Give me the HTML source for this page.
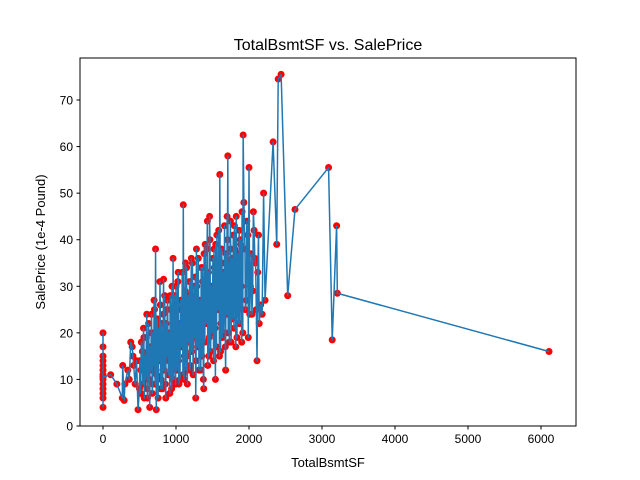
<!DOCTYPE html>
<html><head><meta charset="utf-8">
<style>
body{margin:0;background:#fff;}
svg{display:block;font-family:"Liberation Sans","DejaVu Sans",sans-serif;}
</style></head>
<body>
<svg id="chart" width="640" height="480" viewBox="0 0 640 480">
<rect x="0" y="0" width="640" height="480" fill="#fff"/>
<text x="328" y="50" font-size="16" text-anchor="middle">TotalBsmtSF vs. SalePrice</text>
<text x="328" y="467" font-size="13" text-anchor="middle">TotalBsmtSF</text>
<text transform="translate(45,242) rotate(-90)" font-size="13" text-anchor="middle">SalePrice (1e-4 Pound)</text>
<g id="plot"></g>
<rect x="80" y="58" width="496" height="368" fill="none" stroke="#000" stroke-width="1"/>
</svg>
<script>
const xs=[0,0,0,0,0,0,0,0,0,0,0,0,0,0,105,190,264,270,290,300,340,360,380,400,410,420,440,460,480,500,520,540,560,580,600,610,620,640,660,680,700,710,720,730,740,760,780,790,800,820,830,850,860,880,900,920,940,960,970,990,1000,1010,1030,1040,1060,1080,1100,1110,1130,1150,1170,1190,1210,1230,1250,1270,1280,1300,1320,1340,1360,1380,1400,1420,1430,1450,1460,1480,1500,1520,1540,1560,1580,1600,1610,1630,1650,1660,1680,1700,1710,1730,1750,1770,1800,1820,1840,1860,1880,1900,1920,1930,1950,1970,1990,2000,2020,2040,2060,2070,2090,2110,2130,2160,2180,2200,2220,2330,2380,2400,2440,2530,2630,3090,3140,3200,3210,6110,
505,515,525,545,555,565,575,585,595,605,625,635,645,655,665,675,685,695,705,715,725,735,745,755,765,775,785,795,805,815,825,835,845,855,865,875,885,895,905,915,925,935,945,955,965,975,985,995,1005,1015,1025,1035,1045,1055,1065,1075,1085,1095,1105,1115,1125,1135,1145,1155,1165,1175,1185,1195,1205,1215,1225,1235,1245,1255,1265,1275,1285,1295,1305,1315,1325,1335,1345,1355,1365,1375,1385,1395,1405,1415,1425,1435,1445,1455,1465,1475,1485,1495,1505,1515,1525,1535,1545,1555,1565,1575,1585,1595,1605,1615,1625,1635,1645,1655,1665,1675,1685,1695,1705,1715,1725,1735,1745,1755,1765,1775,1785,1795,1805,1815,1825,1835,1845,1855,1865,1875,1885,1895,1905,1915,1945,1965,1985,2010,2030,2050,2080,2100,2120,2140];
const ys=[4,20,6,17,8,14,9,12,10,15,11,13,7,10.5,11,9,6,13,5.5,9,12,10,18,17,15,13,9,14,3.5,8,12,16,19,10,24,6,14,4,20,9,27,12,38,3.5,20,15,31,8,22,12,31.5,18,6,25,14,28,8,36,10,20,30,12,33,9,25,18,47.5,10,35,15,28,12,36,20,30,6,38,18,25,12,34,8,39,22,44,15,45,28,20,38,10,41,25,54,16,35,20,30,12,45,58,18,38,25,43,17,33,22,40,18,62.5,48,25,44,19,55.5,30,24,46,42,35,14,41,26,24,50,27,61,39,74.5,75.5,28,46.5,55.5,18.5,43,28.5,16,
14,7,18,9,21,6,15,11,19,8,22,10,17,12,24,7,20,13,25,9,18,11,23,6,21,14,26,10,19,8,24,12,28,9,22,15,27,11,20,7,25,13,30,10,23,16,28,9,26,12,31,14,22,10,27,17,33,11,24,15,29,12,34,9,26,18,31,13,28,16,35,11,25,19,32,14,30,17,36,12,27,20,34,15,31,10,37,18,29,22,38,13,33,19,40,16,30,23,36,14,34,21,39,17,31,25,42,15,35,22,38,19,33,26,43,17,37,24,40,20,35,27,44,18,36,23,41,21,38,28,45,19,37,25,42,22,39,30,46,20,38,27,41,24,37,29,36,25,33,22];
const xTicks=[0,1000,2000,3000,4000,5000,6000];
const yTicks=[0,10,20,30,40,50,60,70];
const X=v=>103+v*0.073, Y=v=>426-v*4.657;
const NS="http://www.w3.org/2000/svg", g=document.getElementById('plot');
function mk(t,a){const e=document.createElementNS(NS,t);for(const k in a)e.setAttribute(k,a[k]);g.appendChild(e);return e;}
const idx=xs.map((_,i)=>i).sort((a,b)=>xs[a]-xs[b]);
idx.forEach(i=>{const c=mk('circle',{cx:X(xs[i]),cy:Y(ys[i]),r:3.5,fill:'#ff0000'});

});
const line=mk('polyline',{points:idx.map(i=>X(xs[i])+','+Y(ys[i])).join(' '),fill:'none',stroke:'#1f77b4','stroke-width':1.5,'stroke-linejoin':'round'});


xTicks.forEach(t=>{mk('line',{x1:X(t),x2:X(t),y1:426,y2:429.5,stroke:'#000'});
const l=mk('text',{x:X(t),y:443,'font-size':12,'text-anchor':'middle'});l.textContent=t;

});
yTicks.forEach(t=>{mk('line',{x1:76.5,x2:80,y1:Y(t),y2:Y(t),stroke:'#000'});
const l=mk('text',{x:73,y:Y(t)+4.5,'font-size':12,'text-anchor':'end'});l.textContent=t;

});
</script>
</body></html>
